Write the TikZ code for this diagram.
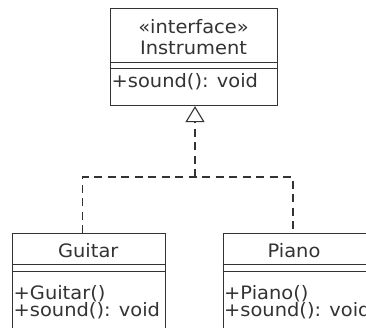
\documentclass[tikz,border=0pt]{standalone}
\usepackage{fontspec}
\setmainfont{DejaVu Sans}[FakeStretch=1.05]
\usetikzlibrary{arrows.meta}
\definecolor{umlgray}{HTML}{333333}
\begin{document}
\begin{tikzpicture}[x=1pt, y=-1pt,
    classbox/.style={draw=umlgray, line width=1.1pt, fill=white, anchor=north west, inner sep=0pt},
    umltext/.style={text=umlgray, font=\fontsize{18.5}{20}\selectfont, inner sep=0pt},
    realize/.style={draw=umlgray, line width=1.1pt, dash pattern=on 8pt off 5.5pt}]
  \useasboundingbox (0,0) rectangle (366,327);
  \clip (0,0) rectangle (366,327);

  \node[classbox, minimum width=167pt, minimum height=97pt] (instr) at (110,8) {};
  \node[classbox, minimum width=152.5pt, minimum height=120pt] (guitar) at (12,233) {};
  \node[classbox, minimum width=170pt, minimum height=120pt] (piano) at (222.5,233) {};

  \draw[umlgray, line width=1.1pt] (110,62.5) -- (277,62.5);
  \draw[umlgray, line width=1.1pt] (110,68.5) -- (277,68.5);
  \draw[umlgray, line width=1.1pt] (12,264.5) -- (164.5,264.5);
  \draw[umlgray, line width=1.1pt] (12,271.5) -- (164.5,271.5);
  \draw[umlgray, line width=1.1pt] (222.5,264.5) -- (392.5,264.5);
  \draw[umlgray, line width=1.1pt] (222.5,271.5) -- (392.5,271.5);

  \node[umltext, anchor=base] (stereo) at (193.5,33) {«interface»};
  \node[umltext, anchor=base] (iname) at (193.5,54) {Instrument};
  \node[umltext, anchor=base west] (isound) at (111.5,87) {+sound(): void};

  \node[umltext, anchor=base] (gname) at (88.25,257) {Guitar};
  \node[umltext, anchor=base west] (gctor) at (13.5,299) {+Guitar()};
  \node[umltext, anchor=base west] (gsound) at (13.5,316) {+sound(): void};

  \node[umltext, anchor=base] (pname) at (294,257) {Piano};
  \node[umltext, anchor=base west] (pctor) at (224,299) {+Piano()};
  \node[umltext, anchor=base west] (psound) at (224,316) {+sound(): void};

  \coordinate (fork) at (195,177);
  \coordinate (gtop) at (82.5,233);
  \coordinate (ptop) at (293,233);
  \draw[realize] (gtop) |- (fork) -| (ptop);
  \draw[realize, -{Triangle[open, width=19pt, length=16pt]}] (fork) -- (instr.south -| fork);
\end{tikzpicture}
\end{document}
